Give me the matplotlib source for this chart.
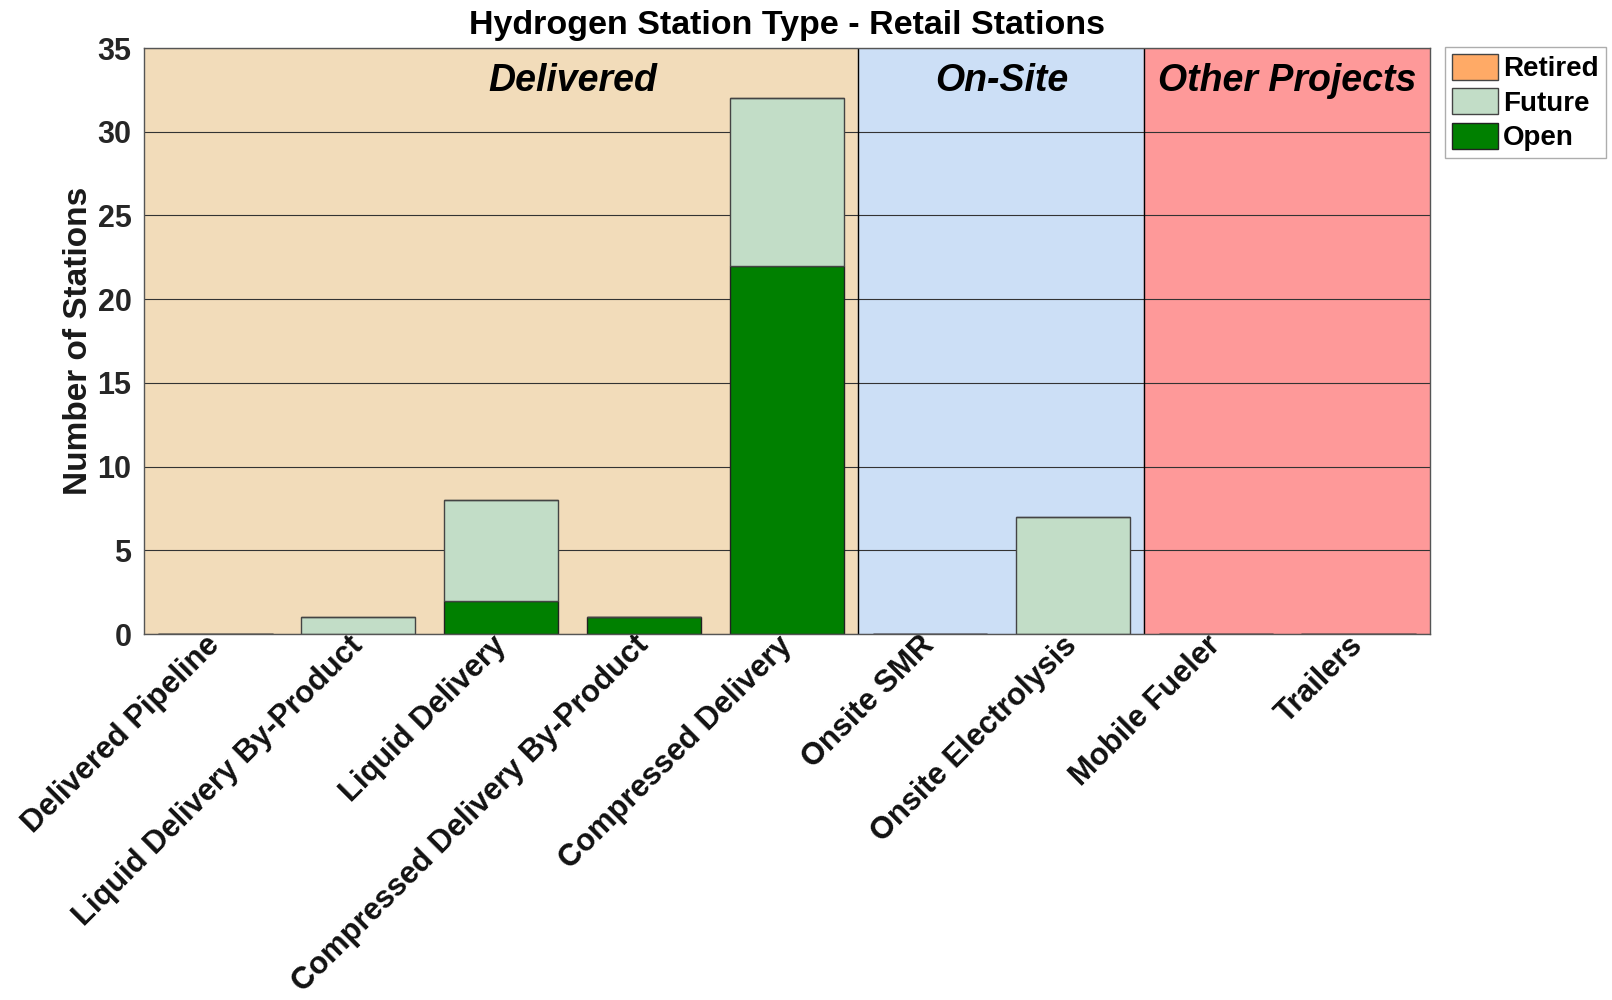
import matplotlib
matplotlib.use("Agg")
import matplotlib.pyplot as plt
import numpy as np

plt.rcParams['font.family'] = ['Liberation Sans', 'DejaVu Sans']
plt.rcParams['font.weight'] = 'bold'

# station types and counts
categories = ["Delivered Pipeline", "Liquid Delivery By-Product", "Liquid Delivery",
              "Compressed Delivery By-Product", "Compressed Delivery", "Onsite SMR",
              "Onsite Electrolysis", "Mobile Fueler", "Trailers"]
open_counts = [0, 0, 2, 1, 22, 0, 0, 0, 0]
future_counts = [0, 1, 6, 0, 10, 0, 7, 0, 0]
retired_counts = [0, 0, 0, 0, 0, 0, 0, 0, 0]

groups = ["Delivered", "On-Site", "Other Projects"]
group_sizes = [5, 2, 2]
group_colors = ["#F2DCBA", "#CCDFF6", "#FE9999"]

fig = plt.figure(figsize=(16.12, 10), dpi=100)
ax = fig.add_axes([144 / 1612, 1 - 634 / 1000, (1430 - 144) / 1612, (634 - 48) / 1000])

x = np.arange(len(categories))
open_arr = np.array(open_counts)
future_arr = np.array(future_counts)
retired_arr = np.array(retired_counts)

# background shading per group
start = -0.5
for name, size, col in zip(groups, group_sizes, group_colors):
    ax.axvspan(start, start + size, color=col, zorder=0)
    if start > -0.5:
        ax.axvline(start, color="black", lw=1, zorder=1)
    # the Delivered label sits right of its span centre in the original
    xc = start + size / 2 + (0.5 if name == "Delivered" else 0)
    ax.text(xc, 33.05, name, ha="center", va="center",
            fontsize=27, fontweight="bold", fontstyle="italic", zorder=3)
    start += size

ax.grid(axis="y", color="#333333", lw=0.8, zorder=1)
ax.set_axisbelow(True)

bw = 0.8
ax.bar(x, open_arr, bw, color="#008000", edgecolor="#222222", lw=1, label="Open", zorder=2)
ax.bar(x, future_arr, bw, bottom=open_arr, color="#C2DDC7", edgecolor="#444444", lw=1,
       label="Future", zorder=2)
ax.bar(x, retired_arr, bw, bottom=open_arr + future_arr, color="#FFAA66", edgecolor="#444444",
       lw=1, label="Retired", zorder=2)

ax.set_xlim(-0.5, len(categories) - 0.5)
ax.set_ylim(0, 35)
ax.set_yticks(range(0, 36, 5))
ax.set_xticks(x)
ax.set_xticklabels(categories, rotation=45, ha="right", va="center", rotation_mode="anchor",
                   fontsize=22.2, color="#111111")
ax.tick_params(axis="y", labelsize=22, length=0, colors="#262626", pad=9)
ax.tick_params(axis="x", length=0, pad=5)
for s in ax.spines.values():
    s.set_color("#555555")
    s.set_linewidth(1)

ax.set_ylabel("Number of Stations", fontsize=24, fontweight="bold", color="#1a1a1a")
ax.yaxis.set_label_coords(-0.039, 0.5)
ax.set_title("Hydrogen Station Type - Retail Stations", fontsize=24.5, fontweight="bold", pad=10)

handles, labels = ax.get_legend_handles_labels()
leg = fig.legend(handles[::-1], labels[::-1], loc="upper left", bbox_to_anchor=(1445 / 1612, 1 - 47 / 1000),
                 fontsize=20, frameon=True, fancybox=False, edgecolor="#999999",
                 handlelength=1.65, handleheight=1.05, handletextpad=0.2, labelspacing=0.22,
                 borderpad=0.25, borderaxespad=0)
leg.get_frame().set_linewidth(1)

fig.savefig("out.png", dpi=100, facecolor="white")
